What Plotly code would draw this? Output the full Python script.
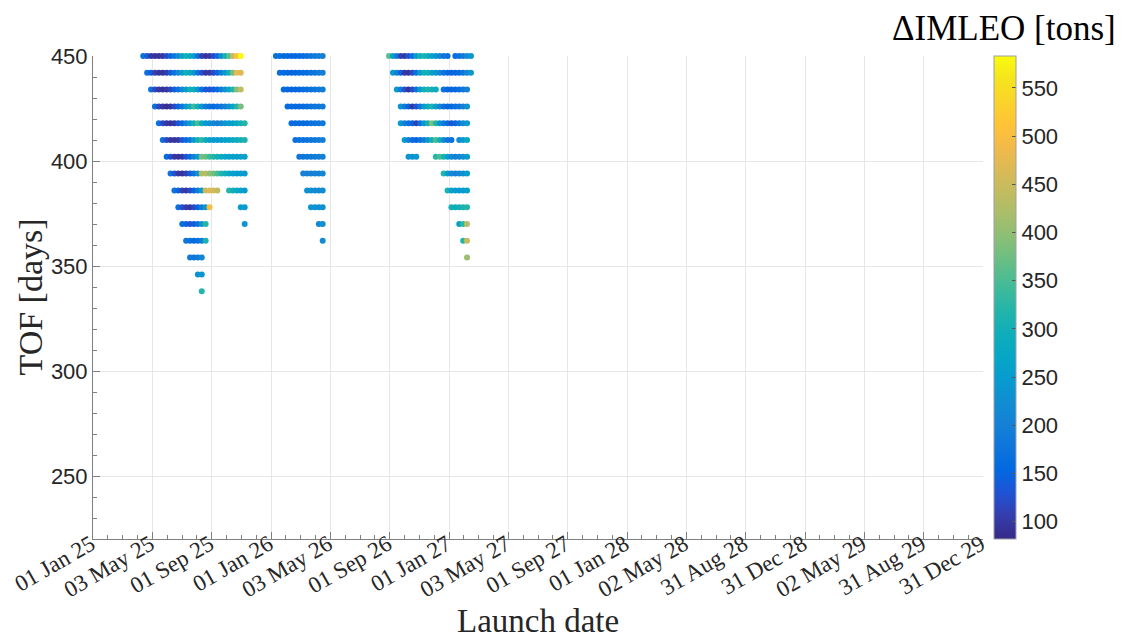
import pandas as pd
import plotly.graph_objects as go

# ---------------- data ----------------
LAUNCH_FIRST = "2025-04-14"      # launch date of grid index k = 0
LAUNCH_STEP_DAYS = 8             # launch-date grid step

# each segment: time of flight [days], first launch-grid index, ΔIMLEO values [tons]
seg_tof = [
    450, 442, 434, 426, 418, 410, 402, 394, 386, 386, 378, 378, 370, 370, 362, 354, 346, 338,
    450, 442, 434, 426, 418, 410, 402, 394, 386, 378, 370, 362,
    450, 450, 442, 434, 434, 426, 418, 410, 410, 402, 402, 394, 386, 378, 370, 362, 354,
]
seg_k0 = [
    0, 1, 2, 3, 4, 5, 6, 7, 8, 22, 9, 25, 10, 26, 11, 12, 14, 15,
    34, 35, 36, 37, 38, 39, 40, 41, 42, 43, 45, 46,
    63, 80, 64, 65, 77, 66, 66, 67, 81, 68, 75, 77, 78, 79, 81, 82, 83,
]
seg_imleo = [
    # window 1 (2025)
    [170, 140, 100, 95, 95, 100, 120, 150, 180, 220, 260, 300, 290, 250, 170, 110, 95, 100, 120, 160, 220, 300, 360, 440, 510, 580],
    [170, 140, 110, 95, 95, 105, 140, 170, 210, 250, 300, 280, 240, 180, 130, 100, 100, 120, 150, 190, 240, 300, 380, 480, 470],
    [170, 120, 100, 95, 100, 115, 145, 170, 210, 250, 300, 290, 240, 170, 140, 130, 140, 160, 190, 230, 270, 320, 390, 440],
    [170, 120, 100, 90, 95, 120, 150, 180, 240, 290, 340, 300, 240, 190, 170, 160, 170, 180, 200, 230, 270, 320, 380],
    [170, 120, 100, 95, 100, 130, 160, 200, 250, 300, 350, 290, 250, 230, 210, 200, 210, 240, 250, 260, 280, 300, 320],
    [170, 120, 100, 95, 100, 130, 160, 180, 240, 300, 330, 290, 260, 250, 250, 250, 260, 270, 280, 290, 300, 310],
    [160, 130, 100, 95, 100, 130, 160, 200, 250, 380, 370, 340, 320, 300, 290, 270, 260, 260, 260, 260, 260],
    [170, 130, 100, 95, 110, 140, 170, 230, 420, 430, 400, 380, 350, 320, 300, 270, 260, 250, 250, 250],
    [170, 150, 110, 100, 120, 150, 190, 250, 450, 470, 460, 440],
    [320, 300, 280, 260, 250],
    [170, 130, 105, 100, 120, 150, 190, 240, 500],
    [250, 250],
    [170, 150, 130, 140, 170, 230, 320],
    [240],
    [180, 170, 160, 170, 190, 310],
    [190, 180, 190, 210],
    [230, 240],
    [320],
    # window 2 (2026)
    [170, 165, 160, 155, 150, 150, 155, 160, 170, 180, 190, 195, 200],
    [165, 160, 155, 150, 150, 155, 160, 165, 170, 180, 190, 195],
    [160, 155, 150, 150, 155, 160, 165, 170, 175, 185, 190],
    [160, 155, 155, 155, 160, 165, 170, 175, 180, 185],
    [165, 160, 160, 160, 165, 170, 175, 180, 185],
    [170, 170, 170, 175, 180, 185, 190, 195],
    [180, 180, 185, 185, 190, 195, 200],
    [200, 200, 200, 200, 205, 210],
    [230, 225, 220, 220, 220],
    [240, 235, 230, 230],
    [220, 225],
    [220],
    # window 3 (2026-2027)
    [360, 260, 190, 110, 100, 130, 170, 250, 300, 310, 290, 260, 240, 210, 180, 170],
    [160, 170, 190, 220, 240],
    [250, 200, 150, 100, 95, 120, 170, 250, 300, 300, 260, 240, 210, 180, 160, 150, 150, 160, 180, 210, 240],
    [250, 190, 130, 95, 120, 170, 250, 300, 310, 300, 290],
    [170, 150, 150, 155, 165, 180, 200],
    [240, 190, 150, 100, 130, 180, 250, 290, 310, 260, 210, 170, 150, 160, 170, 180, 200, 230],
    [250, 200, 170, 150, 110, 170, 240, 300, 390, 320, 240, 190, 160, 130, 150, 180, 220, 240],
    [250, 200, 160, 150, 170, 190, 240, 300, 350, 300, 220, 180, 170],
    [220, 240, 280],
    [240, 230, 240],
    [320, 350, 310, 260, 220, 200, 210, 230, 250],
    [320, 250, 210, 200, 210, 230, 250],
    [310, 260, 250, 250, 250, 260],
    [300, 290, 300, 310, 320],
    [260, 330, 430],
    [320, 450],
    [410],
]

x_tick_labels = ["01 Jan 25", "03 May 25", "01 Sep 25", "01 Jan 26", "03 May 26", "01 Sep 26",
                 "01 Jan 27", "03 May 27", "01 Sep 27", "01 Jan 28", "02 May 28", "31 Aug 28",
                 "31 Dec 28", "02 May 29", "31 Aug 29", "31 Dec 29"]
y_tick_values = [250, 300, 350, 400, 450]
cbar_tick_values = [100, 150, 200, 250, 300, 350, 400, 450, 500, 550]
C_MIN, C_MAX = 82, 583

# ---------------- build points ----------------
first = pd.Timestamp(LAUNCH_FIRST)
xs, ys, cs = [], [], []
for tof, k0, vals in zip(seg_tof, seg_k0, seg_imleo):
    for j, v in enumerate(vals):
        xs.append(first + pd.Timedelta(days=LAUNCH_STEP_DAYS * (k0 + j)))
        ys.append(tof)
        cs.append(v)

# parula colormap
parula = [
    (0.2081, 0.1663, 0.5292), (0.2081, 0.2386, 0.6771), (0.1253, 0.3242, 0.8303),
    (0.0060, 0.4086, 0.8828), (0.0498, 0.4586, 0.8641), (0.0779, 0.5040, 0.8384),
    (0.0641, 0.5570, 0.8240), (0.0265, 0.6137, 0.8135), (0.0228, 0.6535, 0.7768),
    (0.0590, 0.6838, 0.7254), (0.1453, 0.7098, 0.6646), (0.2586, 0.7317, 0.5954),
    (0.3953, 0.7459, 0.5244), (0.5300, 0.7491, 0.4661), (0.6473, 0.7456, 0.4188),
    (0.7525, 0.7384, 0.3768), (0.8507, 0.7299, 0.3360), (0.9450, 0.7261, 0.2886),
    (0.9990, 0.7653, 0.2164), (0.9789, 0.8271, 0.1633), (0.9589, 0.8949, 0.1132),
    (0.9763, 0.9831, 0.0538),
]
n = len(parula) - 1
colorscale = [[i / n, "rgb(%d,%d,%d)" % tuple(round(255 * c) for c in rgb)] for i, rgb in enumerate(parula)]

x_start, x_end = pd.Timestamp("2025-01-01"), pd.Timestamp("2029-12-31")
major_ticks = list(pd.date_range(x_start, x_end, periods=len(x_tick_labels)))
minor_ticks = list(pd.date_range(x_start, x_end, periods=(len(x_tick_labels) - 1) * 4 + 1))

SANS = "Liberation Sans, Arial, sans-serif"
SERIF = "Liberation Serif, Times New Roman, serif"
AXIS_COL = "#808080"
GRID_COL = "#e6e6e6"

# page body has an 8 px margin: figure is 8 px smaller, plot area placed accordingly
L, T, PW, PH = 85, 48, 890, 483
W, H = 1117, 633

fig = go.Figure(go.Scatter(
    x=xs, y=ys, mode="markers", cliponaxis=False,
    marker=dict(
        size=6, color=cs, colorscale=colorscale, cmin=C_MIN, cmax=C_MAX,
        line=dict(width=0),
        colorbar=dict(
            x=(994 - 93) / PW, xanchor="left", xpad=0, ypad=0,
            y=0.5, yanchor="middle", len=1, lenmode="fraction",
            thickness=22, outlinecolor="#a0a0a0", outlinewidth=1,
            tickvals=cbar_tick_values, ticks="inside", ticklen=4,
            tickcolor="#555555", tickfont=dict(family=SANS, size=22, color="#262626"),
        ),
    ),
    hoverinfo="skip",
))

fig.update_layout(
    width=W, height=H,
    margin=dict(l=L, r=W - L - PW, t=T, b=H - T - PH, autoexpand=False),
    plot_bgcolor="white", paper_bgcolor="white", showlegend=False,
    xaxis=dict(
        type="date", range=[x_start, x_end],
        tickmode="array", tickvals=major_ticks, ticktext=x_tick_labels,
        tickangle=-30, tickfont=dict(family=SERIF, size=23, color="#262626"),
        ticklabelstandoff=-18, ticklabelshift=-2, ticklabeloverflow="allow",
        ticks="inside", ticklen=7, tickcolor=AXIS_COL,
        showline=True, linecolor=AXIS_COL, linewidth=1,
        showgrid=True, gridcolor=GRID_COL, gridwidth=1, zeroline=False,
        minor=dict(tickmode="array", tickvals=minor_ticks, ticks="inside",
                   ticklen=4, tickcolor=AXIS_COL, showgrid=False),
    ),
    yaxis=dict(
        range=[220, 450], tickmode="array", tickvals=y_tick_values,
        tickfont=dict(family=SANS, size=22, color="#262626"),
        ticks="inside", ticklen=7, tickcolor=AXIS_COL,
        showline=True, linecolor=AXIS_COL, linewidth=1,
        showgrid=True, gridcolor=GRID_COL, gridwidth=1, zeroline=False,
        minor=dict(dtick=10, tick0=0, ticks="inside", ticklen=4,
                   tickcolor=AXIS_COL, showgrid=False),
    ),
    annotations=[
        dict(text="Launch date", xref="paper", yref="paper", x=0.5, y=0,
             xanchor="center", yanchor="bottom", yshift=-(H - T - PH), showarrow=False,
             font=dict(family=SERIF, size=33, color="#262626")),
        dict(text="TOF [days]", xref="paper", yref="paper", x=0, y=0.5,
             xanchor="center", yanchor="middle", xshift=-63, textangle=-90,
             showarrow=False, font=dict(family=SERIF, size=34, color="#262626")),
        dict(text="ΔIMLEO [tons]", xref="paper", yref="paper", x=1, y=1,
             xanchor="right", yanchor="middle", xshift=135, yshift=28,
             showarrow=False, font=dict(family=SERIF, size=35, color="#000000")),
    ],
)

fig.write_html("out.html")
